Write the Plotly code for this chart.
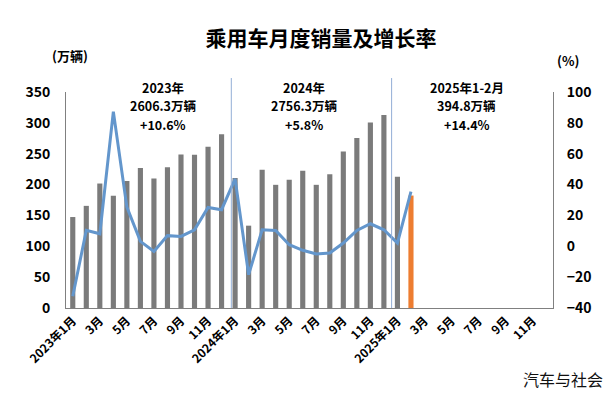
import plotly.graph_objects as go

# ---- data ----
categories = [
    "2023-01", "2023-02", "2023-03", "2023-04", "2023-05", "2023-06",
    "2023-07", "2023-08", "2023-09", "2023-10", "2023-11", "2023-12",
    "2024-01", "2024-02", "2024-03", "2024-04", "2024-05", "2024-06",
    "2024-07", "2024-08", "2024-09", "2024-10", "2024-11", "2024-12",
    "2025-01", "2025-02", "2025-03", "2025-04", "2025-05", "2025-06",
    "2025-07", "2025-08", "2025-09", "2025-10", "2025-11", "2025-12",
]
# monthly passenger-car sales (万辆)
sales = [
    147.4, 165.5, 201.7, 181.9, 205.8, 227.0, 209.7, 227.9, 248.6, 248.2, 261.1, 281.5,
    210.5, 133.4, 223.9, 199.6, 207.7, 222.3, 199.6, 216.9, 253.5, 275.6, 300.4, 312.8,
    212.6, 182.2, None, None, None, None, None, None, None, None, None, None,
]
# year-on-year growth (%)
growth = [
    -32.4, 10.3, 8.1, 87.3, 25.4, 3.2, -3.3, 6.9, 6.4, 10.7, 25.2, 23.7,
    43.7, -18.4, 10.7, 10.3, 1.0, -2.6, -5.0, -4.4, 2.1, 10.3, 14.6, 10.7,
    2.1, 35.5, None, None, None, None, None, None, None, None, None, None,
]
tick_categories = categories[::2]
tick_labels = [
    "2023年1月", "3月", "5月", "7月", "9月", "11月",
    "2024年1月", "3月", "5月", "7月", "9月", "11月",
    "2025年1月", "3月", "5月", "7月", "9月", "11月",
]
highlight_month = "2025-02"
year_notes = [
    (["2023年", "2606.3万辆", "+10.6%"], 6.65),
    (["2024年", "2756.3万辆", "+5.8%"], 17.13),
    (["2025年1-2月", "394.8万辆", "+14.4%"], 29.13),
]
separators = [11.72, 23.57]

FONT = "Noto Sans CJK SC, Microsoft YaHei, sans-serif"
GRAY_BAR = "#7B7B7B"
ORANGE = "#ED7D31"
LINE_BLUE = "#6396CC"
AXIS = "#808080"

# The page body adds an 8px offset; the figure is sized so the whole picture fits.
OFF = 8
W, H = 615 - OFF, 394 - OFF
PL, PR, PT, PB = 66, 553, 92, 308.5   # plot area in reference pixels
PW, PH = PR - PL, PB - PT


def px(xr):
    return (xr - PL) / PW


def py(yr):
    return (PB - yr) / PH


bar_colors = [ORANGE if c == highlight_month else GRAY_BAR for c in categories]

fig = go.Figure()
fig.add_trace(go.Bar(
    x=categories, y=sales, marker=dict(color=bar_colors, line=dict(width=0)),
    width=0.38, name="销量", yaxis="y",
))
fig.add_trace(go.Scatter(
    x=categories, y=growth, mode="lines", line=dict(color=LINE_BLUE, width=3),
    name="增长率", yaxis="y2", connectgaps=False,
))

for sx in separators:
    fig.add_shape(type="line", xref="x", yref="paper", x0=sx, x1=sx, y0=0, y1=py(78),
                  line=dict(color="#93AED6", width=1))

line_y = [87.8, 106, 124.2]
for lines, xi in year_notes:
    for txt, yr in zip(lines, line_y):
        fig.add_annotation(text=txt, xref="x", yref="paper", x=xi, y=py(yr),
                           xanchor="center", yanchor="middle", showarrow=False,
                           font=dict(family=FONT, size=12.5, color="#000000", weight="bold"))

fig.add_annotation(text="(万辆)", xref="paper", yref="paper", x=px(70), y=py(55),
                   xanchor="center", yanchor="middle", showarrow=False,
                   font=dict(family=FONT, size=13, color="#000000", weight="bold"))
fig.add_annotation(text="(%)", xref="paper", yref="paper", x=px(568), y=py(60),
                   xanchor="center", yanchor="middle", showarrow=False,
                   font=dict(family=FONT, size=13, color="#000000", weight="bold"))
fig.add_annotation(text="汽车与社会", xref="paper", yref="paper", x=px(605),
                   y=py(380), xanchor="right", yanchor="middle", showarrow=False,
                   font=dict(family=FONT, size=16, color="#111111"))

fig.update_layout(
    width=W, height=H,
    margin=dict(l=PL - OFF, r=615 - PR, t=PT - OFF, b=394 - PB),
    paper_bgcolor="white", plot_bgcolor="white",
    showlegend=False,
    title=dict(text="乘用车月度销量及增长率", x=(321 - OFF) / W, xanchor="center",
               y=1 - (39 - OFF) / H, yanchor="middle",
               font=dict(family=FONT, size=21, color="#000000", weight="bold")),
    xaxis=dict(
        type="category", categoryorder="array", categoryarray=categories,
        range=[-0.5, 35.5], tickmode="array", tickvals=tick_categories, ticktext=tick_labels,
        tickangle=-45, showline=True, linecolor=AXIS, linewidth=1, ticks="",
        showgrid=False, tickfont=dict(family=FONT, size=12, color="#000000", weight="bold"),
    ),
    yaxis=dict(
        range=[0, 350], dtick=50, showline=True, linecolor=AXIS, linewidth=1,
        showgrid=False, zeroline=False, ticks="", ticklabelstandoff=12,
        tickfont=dict(family=FONT, size=14, color="#000000", weight="bold"),
    ),
    yaxis2=dict(
        range=[-40, 100], dtick=20, overlaying="y", side="right", showline=True,
        linecolor=AXIS, linewidth=1, showgrid=False, zeroline=False, ticks="",
        ticklabelstandoff=10,
        tickfont=dict(family=FONT, size=14, color="#000000", weight="bold"),
    ),
)

fig.write_html("out.html")
